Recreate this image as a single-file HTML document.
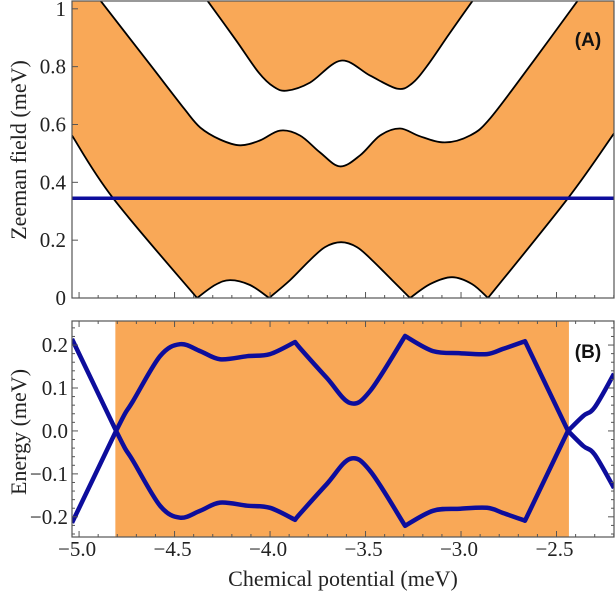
<!DOCTYPE html>
<html><head><meta charset="utf-8"><style>
html,body{margin:0;padding:0;background:#fff;}
svg{display:block;font-family:"Liberation Serif",serif;}
</style></head><body>
<svg id="chart" width="615" height="595" viewBox="0 0 615 595"></svg>
<script>
// ---- data ----
const xTicks = [-5.0, -4.5, -4.0, -3.5, -3.0, -2.5];
const xTickLabels = ["\u22125.0", "\u22124.5", "\u22124.0", "\u22123.5", "\u22123.0", "\u22122.5"];
const aTicks = [0, 0.2, 0.4, 0.6, 0.8, 1];
const aTickLabels = ["0", "0.2", "0.4", "0.6", "0.8", "1"];
const bTicks = [-0.2, -0.1, 0.0, 0.1, 0.2];
const bTickLabels = ["\u22120.2", "\u22120.1", "0.0", "0.1", "0.2"];
// panel A boundaries (mu, Zeeman)
const c1Mu = [-5.037,-4.822,-4.382,-4.288,-4.209,-4.105,-4.005,-3.895,-3.791,-3.712,-3.628,-3.545,-3.466,-3.361,-3.267,-3.162,-3.047,-2.942,-2.859,-2.44,-2.199];
const c1Z  = [0.562,0.345,0,0.045,0.062,0.045,0,0.062,0.131,0.176,0.193,0.176,0.131,0.062,0,0.048,0.072,0.048,0,0.345,0.569];
const c2Mu = [-4.890,-4.628,-4.45,-4.366,-4.262,-4.157,-4.052,-3.948,-3.843,-3.738,-3.634,-3.529,-3.424,-3.319,-3.215,-3.084,-2.953,-2.848,-2.62,-2.387];
const c2Z  = [1.03,0.807,0.655,0.590,0.548,0.528,0.545,0.579,0.562,0.503,0.455,0.493,0.562,0.586,0.559,0.538,0.562,0.621,0.82,1.03];
const c3Mu = [-4.330,-4.18,-4.06,-3.98,-3.911,-3.791,-3.628,-3.476,-3.335,-3.26,-3.18,-3.06,-2.937];
const c3Z  = [1.03,0.893,0.78,0.73,0.717,0.745,0.821,0.769,0.724,0.74,0.80,0.915,1.03];
const zeemanLine = 0.345;
// panel B
const gapStart = -4.81, gapEnd = -2.435;
const eMu = [-5.037,-4.806,-4.76,-4.717,-4.576,-4.471,-4.366,-4.262,-4.120,-4.0,-3.869,-3.843,-3.702,-3.581,-3.476,-3.293,-3.147,-3.005,-2.864,-2.780,-2.665,-2.44,-2.36,-2.30,-2.199];
const eVal = [-0.214,0,0.04,0.07,0.174,0.202,0.186,0.167,0.174,0.179,0.207,0.193,0.123,0.065,0.093,0.221,0.186,0.181,0.179,0.191,0.209,0,-0.035,-0.055,-0.133];
// indices where curves have sharp corners (style only)
const c1Cusps=[2,6,14,18];
const eCusps=[1,10,15,20,21];

// ---- scales ----
const L=72, R=614;
const xmin=-5.037, xmax=-2.199;
const X = v => L + (v - xmin)/(xmax - xmin)*(R-L);
const aTop=1, aBot=298, aMax=1.027;
const YA = v => aBot - v/aMax*(aBot-aTop);
const bTop=321, bBot=537, bMin=-0.247, bMax=0.256;
const YB = v => bBot - (v-bMin)/(bMax-bMin)*(bBot-bTop);

const svg=document.getElementById('chart');
const NS='http://www.w3.org/2000/svg';
function mk(tag, attrs, parent){const e=document.createElementNS(NS,tag);for(const k in attrs)e.setAttribute(k,attrs[k]);(parent||svg).appendChild(e);return e;}
const ORANGE='#F9A857', BLUE='#0d0d9c';

function smooth(P,cusps){
  let s='';
  for(let i=0;i<P.length-1;i++){
    const p1=P[i],p2=P[i+1];
    const p0=(i>0&&!cusps.includes(i))?P[i-1]:p1;
    const p3=(i+2<P.length&&!cusps.includes(i+1))?P[i+2]:p2;
    const t=1/6;
    const c1=[p1[0]+(p2[0]-p0[0])*t,p1[1]+(p2[1]-p0[1])*t];
    const c2=[p2[0]-(p3[0]-p1[0])*t,p2[1]-(p3[1]-p1[1])*t];
    s+=' C'+c1[0].toFixed(1)+','+c1[1].toFixed(1)+' '+c2[0].toFixed(1)+','+c2[1].toFixed(1)+' '+p2[0].toFixed(1)+','+p2[1].toFixed(1);
  }
  return s;
}
const P=(mu,z,Y)=>mu.map((m,i)=>[X(m),Y(z[i])]);

const defs=mk('defs',{});
const cpA=mk('clipPath',{id:'clipA'},defs); mk('rect',{x:L,y:aTop,width:R-L,height:aBot-aTop},cpA);
const cpB=mk('clipPath',{id:'clipB'},defs); mk('rect',{x:L,y:bTop,width:R-L,height:bBot-bTop},cpB);

// ---- Panel A ----
const gA=mk('g',{'clip-path':'url(#clipA)'});


const P1=P(c1Mu,c1Z,YA), P2=P(c2Mu,c2Z,YA), P3=P(c3Mu,c3Z,YA);
const P2r=P2.slice().reverse();
let d1='M'+X(xmin)+','+(aTop-5)+' L'+P1[0].join(',')+smooth(P1,c1Cusps)+' L'+X(xmax)+','+(aTop-5)+' L'+P2r[0].join(',')+smooth(P2r,[])+' Z';
const r1=mk('path',{d:d1,fill:ORANGE,stroke:'none'},gA);


let d2='M'+P3[0].join(',')+smooth(P3,[])+' L'+X(c3Mu[c3Mu.length-1])+','+(aTop-5)+' L'+X(c3Mu[0])+','+(aTop-5)+' Z';
const r2=mk('path',{d:d2,fill:ORANGE,stroke:'none'},gA);


[[P1,c1Cusps,'boundary-1'],[P2,[],'boundary-2'],[P3,[],'boundary-3']].forEach(([pp,cu,n])=>{
  const p=mk('path',{d:'M'+pp[0].join(',')+smooth(pp,cu),fill:'none',stroke:'#000','stroke-width':1.8,'stroke-linejoin':'round'},gA);
  
  
});
const zl=mk('line',{x1:L,x2:R,y1:YA(zeemanLine),y2:YA(zeemanLine),stroke:BLUE,'stroke-width':3.5},gA);


const fA=mk('rect',{x:L,y:aTop,width:R-L,height:aBot-aTop,fill:'none',stroke:'#555','stroke-width':1.2});



// ---- Panel B ----
const gB=mk('g',{'clip-path':'url(#clipB)'});


const gap=mk('rect',{x:X(gapStart),y:bTop,width:X(gapEnd)-X(gapStart),height:bBot-bTop,fill:ORANGE},gB);


const PE=P(eMu,eVal,YB), PEn=P(eMu,eVal.map(v=>-v),YB);
const up=mk('path',{d:'M'+PE[0].join(',')+smooth(PE,eCusps),fill:'none',stroke:BLUE,'stroke-width':4.5,'stroke-linejoin':'round'},gB);


const lo=mk('path',{d:'M'+PEn[0].join(',')+smooth(PEn,eCusps),fill:'none',stroke:BLUE,'stroke-width':4.5,'stroke-linejoin':'round'},gB);


const fB=mk('rect',{x:L,y:bTop,width:R-L,height:bBot-bTop,fill:'none',stroke:'#555','stroke-width':1.2});



// ---- ticks ----
const tg=mk('g',{stroke:'#555','stroke-width':1});
for(let v=-5.0; v<=-2.2; v+=0.1){
  const x=X(v), major=Math.abs(v*2-Math.round(v*2))<0.01;
  const len=major?6:3;
  mk('line',{x1:x,x2:x,y1:aBot,y2:aBot-len},tg);
  mk('line',{x1:x,x2:x,y1:bBot,y2:bBot-len},tg);
  mk('line',{x1:x,x2:x,y1:bTop,y2:bTop+len},tg);
}
for(let v=-0.24; v<=0.25; v+=0.02){
  const y=YB(v), major=Math.abs(v*10-Math.round(v*10))<0.01;
  const len=major?6:3;
  mk('line',{x1:L,x2:L+len,y1:y,y2:y},tg);
  mk('line',{x1:R,x2:R-len,y1:y,y2:y},tg);
}
const FF='Liberation Serif, serif';
aTicks.forEach((v,i)=>{
  mk('line',{x1:L,x2:L+6,y1:YA(v),y2:YA(v)},tg);
  const t=mk('text',{x:L-6,y:YA(v)+7,'text-anchor':'end','font-size':21,fill:'#222','font-family':FF});
  t.textContent=aTickLabels[i];
  
  
});
bTicks.forEach((v,i)=>{
  const t=mk('text',{x:L-4,y:YB(v)+7,'text-anchor':'end','font-size':21,fill:'#222','font-family':FF});
  t.textContent=bTickLabels[i];
  
  
});
xTicks.forEach((v,i)=>{
  const t=mk('text',{x:X(v)-2,y:556,'text-anchor':'middle','font-size':21,fill:'#222','font-family':FF});
  t.textContent=xTickLabels[i];
  
  
});
</script>
<svg style="position:absolute;left:0;top:0" width="615" height="595">
<text x="343" y="586" text-anchor="middle" font-size="22" font-family="Liberation Serif, serif" fill="#222">Chemical potential (meV)</text>
<text transform="translate(26,150) rotate(-90)" text-anchor="middle" font-size="22" font-family="Liberation Serif, serif" fill="#222">Zeeman field (meV)</text>
<text transform="translate(26,432) rotate(-90)" text-anchor="middle" font-size="22" font-family="Liberation Serif, serif" fill="#222">Energy  (meV)</text>
<text x="588" y="46" text-anchor="middle" font-size="19" font-weight="bold" font-family="Liberation Sans, sans-serif" fill="#111">(A)</text>
<text x="588" y="358" text-anchor="middle" font-size="19" font-weight="bold" font-family="Liberation Sans, sans-serif" fill="#111">(B)</text>
</svg>
</body></html>
